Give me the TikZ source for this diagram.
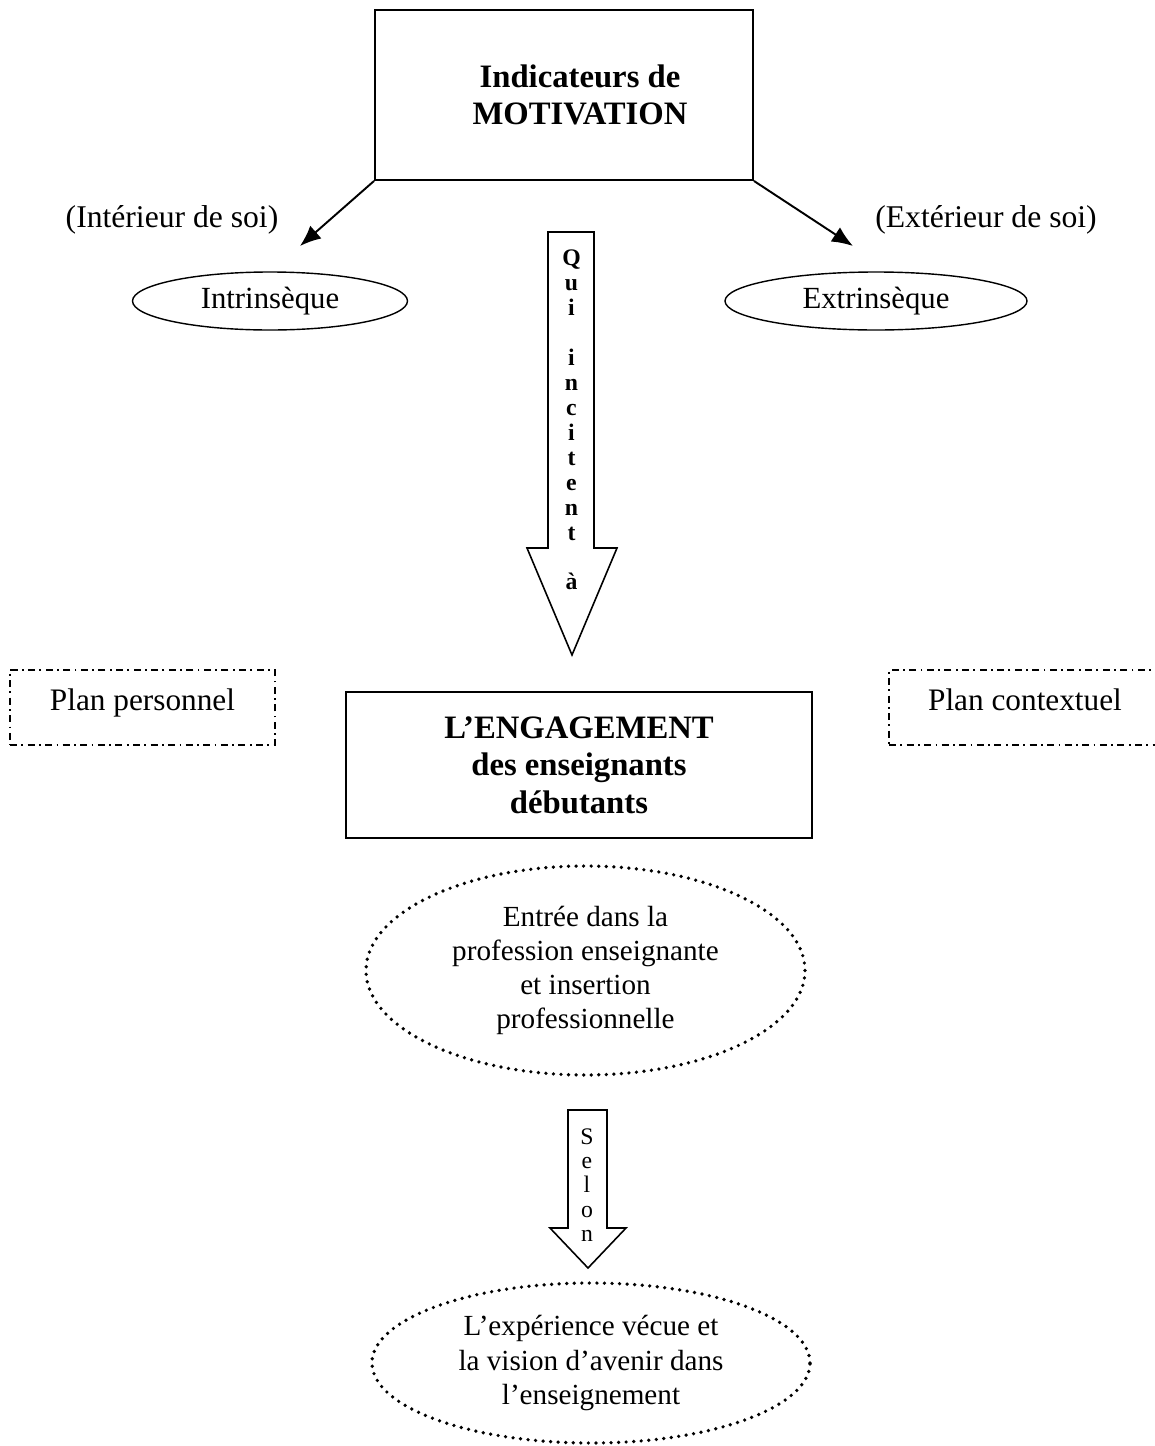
\documentclass[tikz,border=0pt]{standalone}
\usepackage{fontspec}
\setmainfont{Liberation Serif}
\usetikzlibrary{positioning,arrows.meta,shapes.geometric}
\tikzset{
  pointer/.style={-{Latex[length=4.2mm,width=3.4mm]}, line width=1.1pt},
  framebox/.style={draw, line width=1.1pt, align=center, inner sep=0pt, font=\fontsize{18.6}{21.3}\selectfont\bfseries},
  oval/.style={draw, ellipse, line width=0.8pt, inner sep=0pt, font=\fontsize{17.5}{19.5}\selectfont},
  dotoval/.style={draw, ellipse, line width=2.1pt, dash pattern=on 0pt off 4.3pt, line cap=round, inner sep=0pt, align=center, font=\fontsize{16.6}{19.4}\selectfont},
  planbox/.style={draw, line width=0.8pt, dash pattern=on 4pt off 2.5pt on 1pt off 2.5pt, inner sep=0pt, text height=0.5cm, text depth=0.4cm, font=\fontsize{17.8}{19.5}\selectfont},
  sidelabel/.style={inner sep=0pt, font=\fontsize{18}{19.5}\selectfont},
  blockarrow/.style={draw, line width=0.9pt, fill=white, line join=miter},
  letters/.style={align=center, inner sep=0pt}
}

\begin{document}
\begin{tikzpicture}
  \useasboundingbox (0,0) rectangle (23.08,-28.92);

  % motivation and its two sides
  \node[framebox, minimum width=7.56cm, minimum height=3.4cm] (motiv) at (11.28,-1.9)
    {\hspace*{0.64cm}Indicateurs de\\ \hspace*{0.64cm}MOTIVATION};
  \node[sidelabel] (inlab) at (3.44,-4.4) {(Intérieur de soi)};
  \node[sidelabel] (exlab) at (19.72,-4.4) {(Extérieur de soi)};
  \node[oval, minimum width=5.5cm, minimum height=1.16cm] (intr) at (5.4,-6.02) {Intrinsèque};
  \node[oval, minimum width=6.04cm, minimum height=1.16cm] (extr) at (17.52,-6.02) {Extrinsèque};
  \coordinate (intend) at (6.0,-4.92);
  \coordinate (extend) at (17.06,-4.92);
  \draw[pointer] (motiv.south west) -- (intend);
  \draw[pointer] (motiv.south east) -- (extend);

  % big arrow
  \draw[blockarrow] (10.96,-4.64) -- (11.88,-4.64) -- (11.88,-10.96) -- (12.34,-10.96)
    -- (11.44,-13.1) -- (10.54,-10.96) -- (10.96,-10.96) -- cycle;
  \node[letters, font=\fontsize{13.5}{14.2}\selectfont\bfseries] (qui) at (11.43,-8.4)
    {Q\\ u\\ i\\ ~\\ i\\ n\\ c\\ i\\ t\\ e\\ n\\ t\\ ~\\ à};

  % the two planes
  \node[planbox, minimum width=5.3cm, minimum height=1.5cm] (perso) at (2.85,-14.15) {Plan personnel};
  \node[planbox, minimum width=6.2cm, minimum height=1.5cm] (contx) at (20.88,-14.15)
    {Plan contextuel\hspace*{0.76cm}};

  % engagement
  \node[framebox, minimum width=9.32cm, minimum height=2.92cm] (engag) at (11.58,-15.3)
    {L’ENGAGEMENT\\ des enseignants\\ débutants};
  \node[dotoval, minimum width=8.78cm, minimum height=4.18cm] (entree) at (11.71,-19.41)
    {Entrée dans la\\ profession enseignante\\ et insertion\\ professionnelle};

  % small arrow
  \draw[blockarrow] (11.36,-22.2) -- (12.14,-22.2) -- (12.14,-24.56) -- (12.52,-24.56)
    -- (11.76,-25.36) -- (11.0,-24.56) -- (11.36,-24.56) -- cycle;
  \node[letters, font=\fontsize{13.5}{13.9}\selectfont] (selon) at (11.74,-23.7) {S\\ e\\ l\\ o\\ n};

  \node[dotoval, minimum width=8.76cm, minimum height=3.2cm] (vecu) at (11.82,-27.26)
    {L’expérience vécue et\\ la vision d’avenir dans\\ l’enseignement};
\end{tikzpicture}
\end{document}
